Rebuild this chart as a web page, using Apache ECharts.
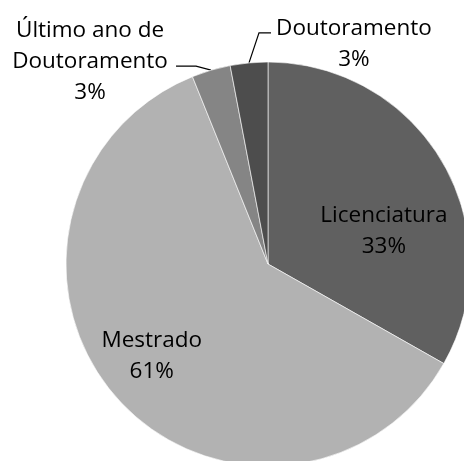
<!DOCTYPE html>
<html><head><meta charset="utf-8">
<script src="https://cdn.jsdelivr.net/npm/echarts@6/dist/echarts.min.js"></script>
<style>html,body{margin:0;padding:0;background:#fff}#c{width:464px;height:461px}</style>
</head><body><div id="c"></div>
<script>
const categories = ['Licenciatura', 'Mestrado', 'Último ano de\nDoutoramento', 'Doutoramento'];
const values = [33.2, 60.7, 3.1, 3.0];
const colors = ['#606060', '#b2b2b2', '#858585', '#4d4d4d'];
const labelPlacement = ['inside', 'inside', 'outside', 'outside'];
const labelShift = [[26, 19], [-38, 23.5], [-121, -8.5], [105, -18.5]];
const guideBends = [null, null, [[-15, -4], [-35, -4]], [[10, -30], [22, -30]]];

const chart = echarts.init(document.getElementById('c'), null, {renderer: 'canvas'});
chart.setOption({
  animation: false,
  series: [{
    type: 'pie',
    center: [268, 264],
    radius: 202,
    startAngle: 90,
    clockwise: true,
    avoidLabelOverlap: false,
    percentPrecision: 0,
    silent: true,
    itemStyle: {borderColor: '#ffffff', borderWidth: 0.6},
    label: {formatter: '{b}\n{d}%', fontFamily: 'Open Sans', fontSize: 22.5, lineHeight: 31, color: '#000', align: 'center'},
    labelLine: {show: true, length: 10, length2: 10, lineStyle: {color: '#000', width: 1.2}},
    data: categories.map((n, i) => ({
      name: n, value: values[i],
      itemStyle: {color: colors[i]},
      label: {position: labelPlacement[i]},
      labelLine: {show: labelPlacement[i] === 'outside'}
    })),
    labelLayout: function (p) {
      const i = p.dataIndex;
      const sh = labelShift[i];
      if (guideBends[i] && p.labelLinePoints) {
        const s = p.labelLinePoints[0];
        const pts = [[s[0], s[1]]].concat(guideBends[i].map(b => [s[0] + b[0], s[1] + b[1]]));
        return {x: s[0] + sh[0], y: s[1] + sh[1], align: 'center', verticalAlign: 'middle', labelLinePoints: pts};
      }
      const r = p.labelRect;
      return {x: r.x + r.width / 2 + sh[0], y: r.y + r.height / 2 + sh[1], align: 'center', verticalAlign: 'middle'};
    }
  }]
});
</script></body></html>
